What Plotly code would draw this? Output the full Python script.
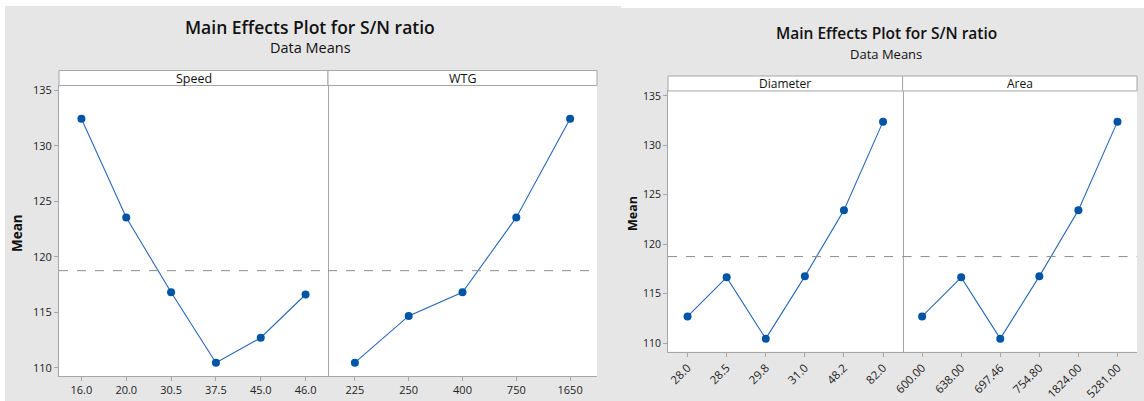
import plotly.graph_objects as go

# ---------------- data ----------------
speed_levels = ["16.0", "20.0", "30.5", "37.5", "45.0", "46.0"]
speed_means = [132.45, 123.55, 116.8, 110.45, 112.7, 116.6]

wtg_levels = ["225", "250", "400", "750", "1650"]
wtg_means = [110.45, 114.67, 116.8, 123.55, 132.45]

diameter_levels = ["28.0", "28.5", "29.8", "31.0", "48.2", "82.0"]
diameter_means = [112.7, 116.65, 110.45, 116.75, 123.45, 132.4]

area_levels = ["600.00", "638.00", "697.46", "754.80", "1824.00", "5281.00"]
area_means = [112.7, 116.65, 110.45, 116.75, 123.45, 132.4]

overall_mean = 118.75
y_ticks = [110, 115, 120, 125, 130, 135]

title_text = "Main Effects Plot for S/N ratio"
subtitle_text = "Data Means"
y_title = "Mean"

# ---------------- layout helpers ----------------
W, H = 1144, 401
FONT = "Open Sans"
MARK = "#0054a6"
LINE = "#2a68b8"
FRAME = "#a6a6a6"
BG = "#e6e6e6"


def px(x):
    return x / W


def py(y):
    return 1 - y / H


fig = go.Figure()

panels = [
    # name, levels, means, xaxis id, yaxis id, x0, x1
    ("Speed", speed_levels, speed_means, "x", "y", 59, 328),
    ("WTG", wtg_levels, wtg_means, "x2", "y", 328, 597),
    ("Diameter", diameter_levels, diameter_means, "x3", "y3", 668, 902.6),
    ("Area", area_levels, area_means, "x4", "y3", 902.6, 1137),
]

for name, lv, mv, xa, ya, x0, x1 in panels:
    fig.add_trace(go.Scatter(
        x=lv, y=mv, xaxis=xa, yaxis=ya, mode="lines+markers",
        line=dict(color=LINE, width=1.1),
        marker=dict(color=MARK, size=8),
        showlegend=False, hoverinfo="x+y",
    ))

# white margins around the grey chart backgrounds
fig.add_shape(type="rect", xref="paper", yref="paper", x0=0, x1=px(621),
              y0=py(6), y1=1, fillcolor="white", line_width=0, layer="below")
fig.add_shape(type="rect", xref="paper", yref="paper", x0=px(621), x1=1,
              y0=py(8), y1=1, fillcolor="white", line_width=0, layer="below")
fig.add_shape(type="rect", xref="paper", yref="paper", x0=0, x1=px(5),
              y0=0, y1=1, fillcolor="white", line_width=0, layer="below")

left_plot = dict(top=85.5, bottom=376, strip_top=70.5)
right_plot = dict(top=91, bottom=351.7, strip_top=76)

axis_common = dict(
    showline=True, linecolor=FRAME, linewidth=1, mirror=True,
    ticks="outside", ticklen=4, tickcolor=FRAME, showgrid=False,
    zeroline=False, fixedrange=True, automargin=False,
)

layout_axes = {}
for i, (name, lv, mv, xa, ya, x0, x1) in enumerate(panels):
    right = i >= 2
    geo = right_plot if right else left_plot
    key = "xaxis" if xa == "x" else "xaxis" + xa[1:]
    layout_axes[key] = dict(
        axis_common, type="category", categoryorder="array",
        categoryarray=lv, range=[-0.5, len(lv) - 0.5],
        domain=[px(x0), px(x1)], anchor=ya,
        tickfont=dict(family=FONT, size=11.5 if right else 11, color="#222"),
        tickangle=-45 if right else 0,
    )
    # strip header
    fig.add_shape(type="rect", xref="paper", yref="paper",
                  x0=px(x0), x1=px(x1), y0=py(geo["top"]), y1=py(geo["strip_top"]),
                  fillcolor="white", line=dict(color=FRAME, width=1))
    fig.add_annotation(x=(px(x0) + px(x1)) / 2, y=(py(geo["top"]) + py(geo["strip_top"])) / 2,
                       xref="paper", yref="paper", text=name, showarrow=False,
                       font=dict(family=FONT, size=12.5 if not right else 12, color="#111"),
                       xanchor="center", yanchor="middle")
    # overall mean reference line
    fig.add_shape(type="line", xref=xa + " domain", yref=ya, x0=0, x1=1,
                  y0=overall_mean, y1=overall_mean,
                  line=dict(color="#8c8c8c", width=1, dash="dash"))

layout_axes["yaxis"] = dict(
    axis_common, domain=[py(left_plot["bottom"]), py(left_plot["top"])],
    range=[109.25, 135.45], tickvals=y_ticks, anchor="x",
    tickfont=dict(family=FONT, size=11, color="#222"),
)
layout_axes["yaxis3"] = dict(
    axis_common, domain=[py(right_plot["bottom"]), py(right_plot["top"])],
    range=[109.13, 135.5], tickvals=y_ticks, anchor="x3",
    tickfont=dict(family=FONT, size=10.5, color="#222"),
)

fig.update_layout(**layout_axes)

# titles
for cx, ty, sy, ts, ss in [(310, 27, 48, 17.5, 14.5), (886, 33, 54, 15.5, 13)]:
    fig.add_annotation(x=px(cx), y=py(ty), xref="paper", yref="paper", text=title_text,
                       showarrow=False, xanchor="center", yanchor="middle",
                       font=dict(family=FONT, size=ts, color="#111", weight=600))
    fig.add_annotation(x=px(cx), y=py(sy), xref="paper", yref="paper", text=subtitle_text,
                       showarrow=False, xanchor="center", yanchor="middle",
                       font=dict(family=FONT, size=ss, color="#111"))

for mx, my, ms in [(17, 233, 13.5), (632, 213, 12.5)]:
    fig.add_annotation(x=px(mx), y=py(my), xref="paper", yref="paper", text=y_title,
                       showarrow=False, textangle=-90, xanchor="center", yanchor="middle",
                       font=dict(family=FONT, size=ms, color="#111", weight="bold"))

fig.update_layout(
    width=W, height=H, autosize=False,
    margin=dict(l=0, r=0, t=0, b=0, pad=0),
    paper_bgcolor=BG, plot_bgcolor="white",
)

fig.write_html(
    "out.html",
    config={"displayModeBar": False},
    post_script="document.body.style.margin='0';document.body.style.overflow='hidden';",
)
